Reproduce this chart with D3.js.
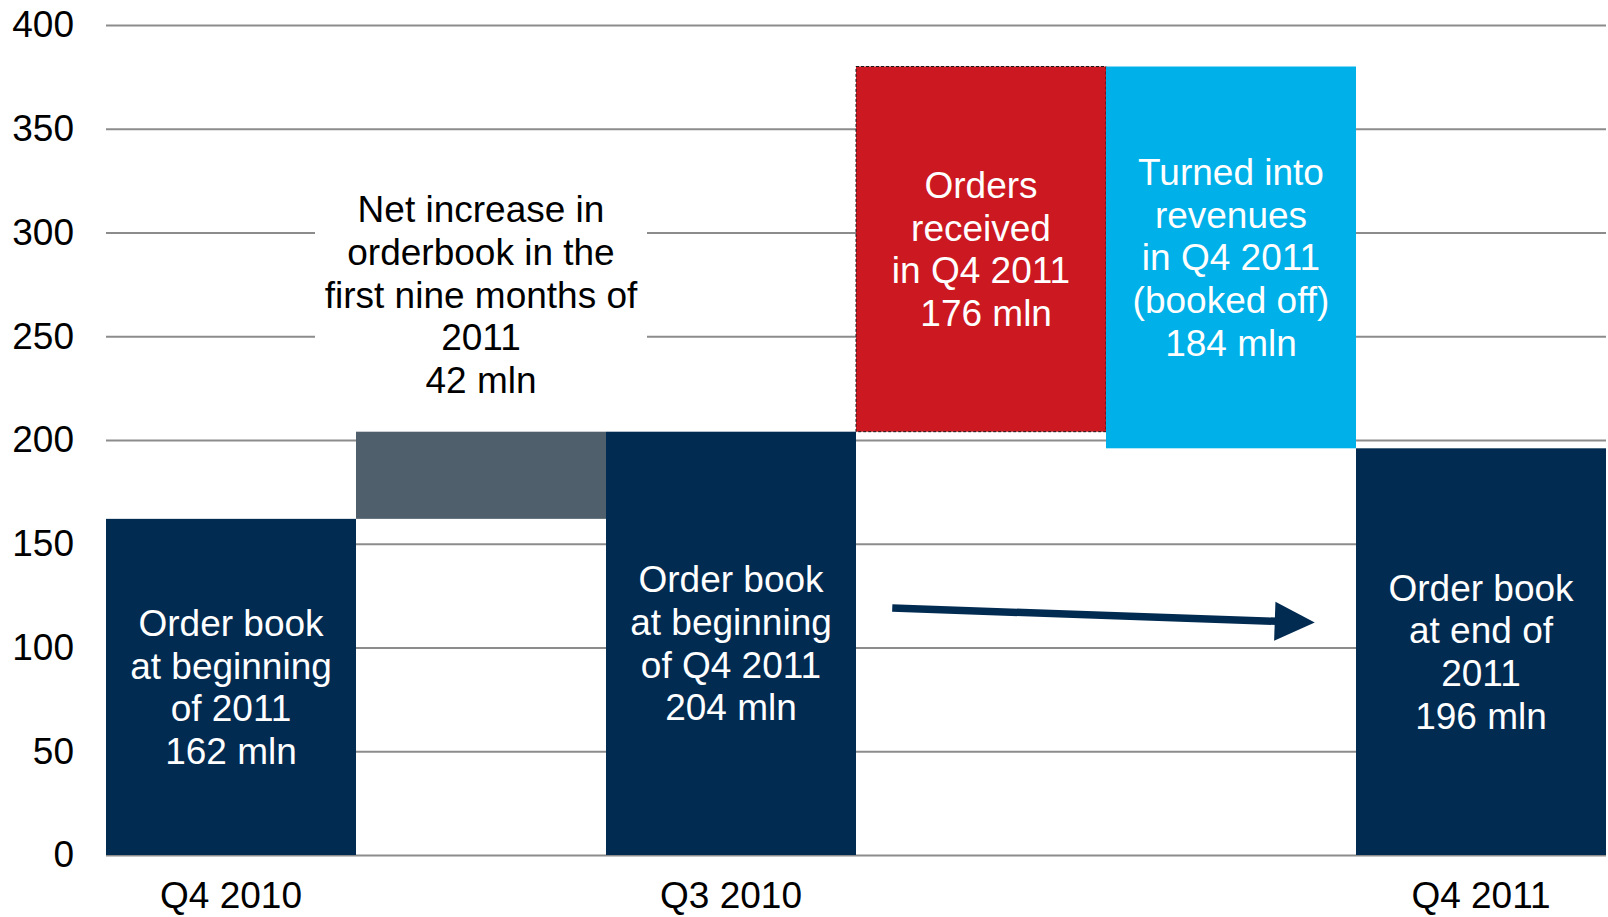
<!DOCTYPE html>
<html>
<head>
<meta charset="utf-8">
<script src="https://cdn.jsdelivr.net/npm/d3@7"></script>
<style>
  html, body { margin: 0; padding: 0; background: #fff; }
  text { font-family: "Liberation Sans", Arial, sans-serif; }
</style>
</head>
<body>
<div id="chart"></div>
<script>
var width = 1608;
var height = 917;
var margin = {top: 25, right: 2, bottom: 62, left: 106};
var chartW = width - margin.left - margin.right;
var chartH = height - margin.top - margin.bottom;

// data
let keys = ['start', 'increase', 'q3', 'received', 'booked', 'end'];
let tickLabels = ['Q4 2010', '', 'Q3 2010', '', '', 'Q4 2011'];
let barBase = [0, 162, 0, 204, 196, 0];
let barTop = [162, 204, 204, 380, 380, 196];
let barColors = ['#022b51', '#4f5f6b', '#022b51', '#cc1820', '#00b0e8', '#022b51'];
let barLabels = [
  ['Order book', 'at beginning', 'of 2011', '162 mln'],
  ['Net increase in', 'orderbook in the', 'first nine months of', '2011', '42 mln'],
  ['Order book', 'at beginning', 'of Q4 2011', '204 mln'],
  ['Orders', 'received', 'in Q4 2011', ' 176 mln'],
  ['Turned into', 'revenues', 'in Q4 2011', '(booked off)', '184 mln'],
  ['Order book', 'at end of', '2011', '196 mln']
];
let yTicks = [0, 50, 100, 150, 200, 250, 300, 350, 400];
// arrow from inside "received" band to just before "end" band
let arrowFrom = {key: 'received', offset: 0.145, value: 119};
let arrowTo = {key: 'end', offset: -0.165, value: 112};

let fontSize = 37;
let lineH = 42.7;

let x = d3.scaleBand().domain(keys).range([0, chartW]).padding(0);
let y = d3.scaleLinear().domain([0, 400]).range([chartH, 0]);

let svg = d3.select('#chart')
            .append('svg')
            .attr('width', width)
            .attr('height', height);

let chart = svg.append('g')
            .attr('transform', 'translate(' + margin.left + ',' + margin.top + ')');

// gridlines
let grid = chart.append('g')
    .call(d3.axisLeft(y).tickValues(yTicks).tickSize(-chartW).tickFormat(''));
grid.select('.domain').remove();
grid.selectAll('line').attr('stroke', '#8c8c8c').attr('stroke-width', 2);

// y axis labels
let yAxis = chart.append('g')
    .call(d3.axisLeft(y).tickValues(yTicks).tickSize(0).tickPadding(32));
yAxis.select('.domain').remove();
yAxis.selectAll('text')
    .style('font-size', fontSize + 'px')
    .attr('fill', '#000');

// x axis labels
let xAxis = chart.append('g')
    .attr('transform', 'translate(0,' + chartH + ')')
    .call(d3.axisBottom(x).tickSize(0).tickPadding(27).tickFormat((d, i) => tickLabels[i]));
xAxis.select('.domain').remove();
xAxis.selectAll('text')
    .style('font-size', fontSize + 'px')
    .attr('fill', '#000');

// white box behind the floating label (covers gridlines)
let floatIdx = 1;
let floatBottom = y(barTop[floatIdx]) - 51.5;
let floatLines = barLabels[floatIdx].length;
chart.append('rect')
    .attr('x', x(keys[floatIdx]) + x.bandwidth() / 2 - 166)
    .attr('y', floatBottom - (floatLines - 1) * lineH - 24)
    .attr('width', 332)
    .attr('height', (floatLines - 1) * lineH + 48)
    .attr('fill', '#fff');

// bars
chart.selectAll('.bar')
    .data(keys)
    .enter()
    .append('rect')
    .classed('bar', true)
    .attr('x', d => x(d))
    .attr('width', x.bandwidth())
    .attr('y', (d, i) => y(barTop[i]))
    .attr('height', (d, i) => y(barBase[i]) - y(barTop[i]))
    .attr('fill', (d, i) => barColors[i])
    .attr('stroke', (d, i) => d === 'received' ? '#1a1a1a' : 'none')
    .attr('stroke-width', 1)
    .attr('stroke-dasharray', '3,2');

// labels
keys.forEach(function(k, i) {
  let lines = barLabels[i];
  let cx = x(k) + x.bandwidth() / 2;
  let cy;
  let color = '#fff';
  if (i === floatIdx) {
    cy = floatBottom - (lines.length - 1) * lineH / 2;
    color = '#000';
  } else {
    cy = (y(barTop[i]) + y(barBase[i])) / 2;
  }
  let t = chart.append('text')
      .attr('text-anchor', 'middle')
      .attr('fill', color)
      .style('font-size', fontSize + 'px')
      .style('white-space', 'pre');
  lines.forEach(function(s, j) {
    t.append('tspan')
      .attr('x', cx)
      .attr('y', cy + (j - (lines.length - 1) / 2) * lineH)
      .attr('dy', '0.35em')
      .text(s);
  });
});

// arrow
let x1 = x(arrowFrom.key) + arrowFrom.offset * x.bandwidth();
let y1 = y(arrowFrom.value);
let x2 = x(arrowTo.key) + arrowTo.offset * x.bandwidth();
let y2 = y(arrowTo.value);
let ang = Math.atan2(y2 - y1, x2 - x1);
let headLen = 40, headHalf = 19.5;
let bx = x2 - headLen * Math.cos(ang);
let by = y2 - headLen * Math.sin(ang);
chart.append('line')
    .attr('x1', x1).attr('y1', y1)
    .attr('x2', bx + 2 * Math.cos(ang)).attr('y2', by + 2 * Math.sin(ang))
    .attr('stroke', '#022b51')
    .attr('stroke-width', 7.5);
chart.append('polygon')
    .attr('points', [
      [x2, y2],
      [bx + headHalf * Math.sin(ang), by - headHalf * Math.cos(ang)],
      [bx - headHalf * Math.sin(ang), by + headHalf * Math.cos(ang)]
    ].map(p => p.join(',')).join(' '))
    .attr('fill', '#022b51');
</script>
</body>
</html>
